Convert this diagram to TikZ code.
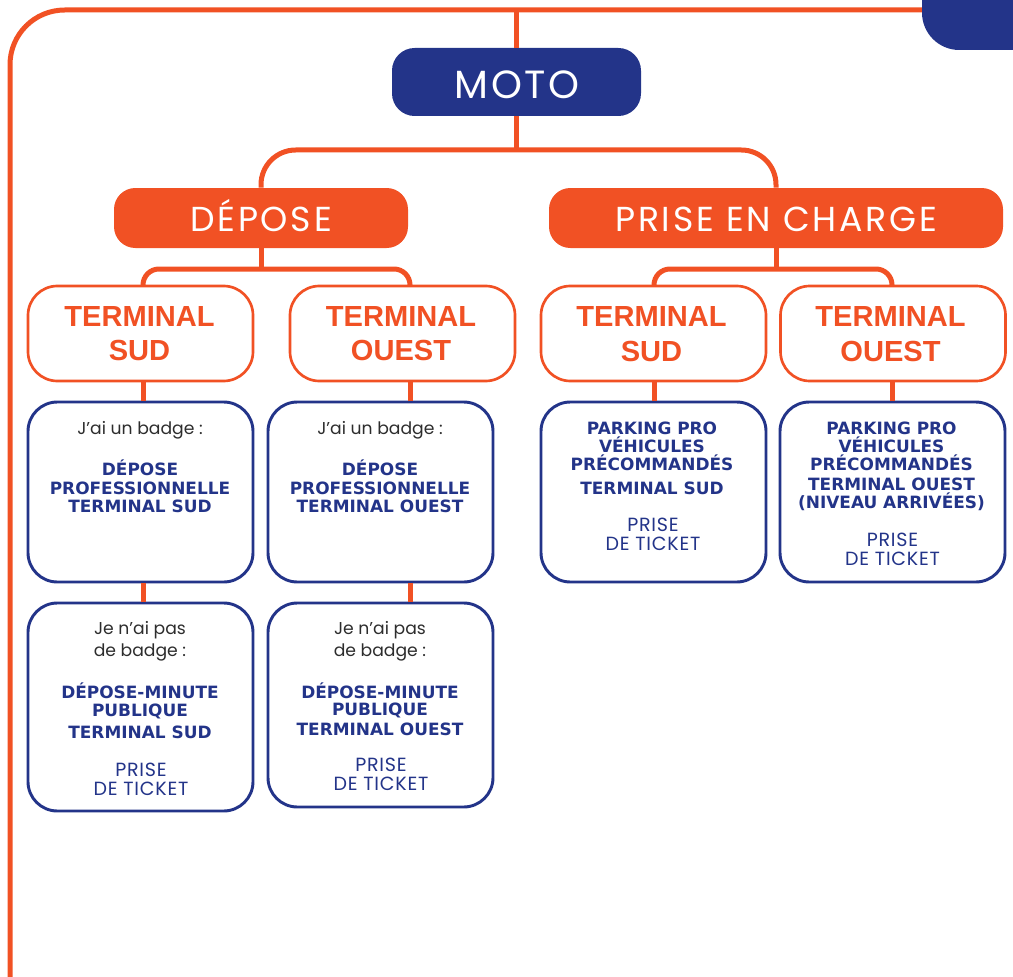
\documentclass[tikz,border=0pt]{standalone}
\usepackage{fontspec}
\setmainfont{Poppins}
\newfontfamily\libsans{Liberation Sans}
\newfontfamily\djsans{DejaVu Sans}
\newfontfamily\hdrfont{Poppins}[LetterSpace=8]
\newfontfamily\motofont{Poppins}[LetterSpace=6]
\newfontfamily\tickfont{Poppins}[LetterSpace=4]
\usetikzlibrary{calc}
\definecolor{orng}{RGB}{241,81,36}
\definecolor{navy}{RGB}{35,52,137}
\definecolor{txtgray}{RGB}{45,45,45}
\newcommand\tl[5]{\node[#4] (#1) at (#2,#3) {#5};}
\begin{document}
\begin{tikzpicture}[x=0.75pt,y=-0.75pt,
  conn/.style={draw=orng,line width=3.75pt},
  hbox/.style={rounded corners=16pt, minimum height=45pt, inner sep=0},
  tbox/.style={draw=orng, fill=white, line width=2pt, rounded corners=22pt, minimum width=168.75pt, minimum height=71.25pt, inner sep=0},
  bluebox/.style={draw=navy, fill=white, line width=2.2pt, rounded corners=22pt, minimum width=168.75pt, inner sep=0},
  lbl/.style={anchor=base, inner sep=0},
  htxt/.style={lbl, text=white},
  ttxt/.style={lbl, text=orng, font=\libsans\bfseries\fontsize{21.8}{21.8}\selectfont},
  gtxt/.style={lbl, text=txtgray, font=\fontsize{12.9}{12.9}\selectfont},
  btxt/.style={lbl, text=navy, font=\djsans\bfseries\fontsize{12.7}{12.7}\selectfont},
  ptxt/.style={lbl, text=navy, font=\tickfont\fontsize{14.3}{14.3}\selectfont},
]
\useasboundingbox (0,0) rectangle (1013,977);
% frame
\draw[conn, rounded corners=41pt] (10,990) -- (10,10) -- (930,10);
\fill[navy, rounded corners=28pt] (922,-60) rectangle (1080,50);

% header boxes
\node[hbox, fill=navy, minimum width=186.75pt, minimum height=51pt, rounded corners=17pt] (moto) at (516.5,82) {};
\node[hbox, fill=orng, minimum width=220.5pt] (depose) at (261,218) {};
\node[hbox, fill=orng, minimum width=340.5pt] (prise) at (776,218) {};

% terminal boxes
\node[tbox] (ts1) at (140.5,333.5) {};
\node[tbox] (to1) at (402.5,333.5) {};
\node[tbox] (ts2) at (653.5,333.5) {};
\node[tbox] (to2) at (893,333.5) {};

% blue boxes
\node[bluebox, minimum height=135pt] (b1) at (140.5,492) {};
\node[bluebox, minimum height=135pt] (b2) at (380.5,492) {};
\node[bluebox, minimum height=135pt] (b3) at (653.5,492) {};
\node[bluebox, minimum height=135pt] (b4) at (892.5,492) {};
\node[bluebox, minimum height=156pt] (b5) at (140.5,707) {};
\node[bluebox, minimum height=153pt] (b6) at (380.5,705) {};

% connector helpers
\coordinate (top) at (516.5,10);
\coordinate (j1) at (516.5,150);
\coordinate (j2) at (261,269);
\coordinate (j3) at (776,269);
\coordinate (c1) at (143,0);
\coordinate (c2) at (410,0);
\coordinate (c3) at (654,0);
\coordinate (c4) at (892,0);

\draw[conn] (top) -- (moto.north);
\draw[conn] (moto.south) -- (j1);
\draw[conn, rounded corners=26pt] (depose.north) |- (j1) -| (prise.north);
\draw[conn] (depose.south) -- (j2);
\draw[conn, rounded corners=12pt] (ts1.north -| c1) |- (j2) -| (to1.north -| c2);
\draw[conn] (prise.south) -- (j3);
\draw[conn, rounded corners=12pt] (ts2.north -| c3) |- (j3) -| (to2.north -| c4);
\draw[conn] (ts1.south -| c1) -- (b1.north -| c1);
\draw[conn] (to1.south -| c2) -- (b2.north -| c2);
\draw[conn] (ts2.south -| c3) -- (b3.north -| c3);
\draw[conn] (to2.south -| c4) -- (b4.north -| c4);
\draw[conn] (b1.south -| c1) -- (b5.north -| c1);
\draw[conn] (b2.south -| c2) -- (b6.north -| c2);

% header texts
\tl{motot}{517}{98.3}{htxt, font=\motofont\fontsize{29.5}{29.5}\selectfont}{MOTO}
\tl{deposet}{261}{231.7}{htxt, font=\hdrfont\fontsize{26}{26}\selectfont}{DÉPOSE}
\tl{priset}{776}{231.7}{htxt, font=\hdrfont\fontsize{26}{26}\selectfont}{PRISE EN CHARGE}

% terminal texts
\tl{ts1a}{139.5}{326.7}{ttxt}{TERMINAL}
\tl{ts1b}{139.5}{360.7}{ttxt}{SUD}
\tl{to1a}{401}{326.7}{ttxt}{TERMINAL}
\tl{to1b}{401}{360.7}{ttxt}{OUEST}
\tl{ts2a}{651.5}{326.7}{ttxt}{TERMINAL}
\tl{ts2b}{651.5}{361}{ttxt}{SUD}
\tl{to2a}{890.5}{326.7}{ttxt}{TERMINAL}
\tl{to2b}{890.5}{361}{ttxt}{OUEST}

% box 1
\tl{b1a}{140}{434}{gtxt}{J’ai un badge :}
\tl{b1b}{140}{475}{btxt}{DÉPOSE}
\tl{b1c}{140}{494}{btxt}{PROFESSIONNELLE}
\tl{b1d}{140}{512.3}{btxt}{TERMINAL SUD}
% box 2
\tl{b2a}{380}{434}{gtxt}{J’ai un badge :}
\tl{b2b}{380}{475}{btxt}{DÉPOSE}
\tl{b2c}{380}{494}{btxt}{PROFESSIONNELLE}
\tl{b2d}{380}{512.3}{btxt}{TERMINAL OUEST}
% box 3
\tl{b3a}{652}{434}{btxt}{PARKING PRO}
\tl{b3b}{652}{452.3}{btxt}{VÉHICULES}
\tl{b3c}{652}{470.7}{btxt}{PRÉCOMMANDÉS}
\tl{b3d}{652}{494}{btxt}{TERMINAL SUD}
\tl{b3e}{653}{531.7}{ptxt}{PRISE}
\tl{b3f}{653}{550}{ptxt}{DE TICKET}
% box 4
\tl{b4a}{891.5}{434}{btxt}{PARKING PRO}
\tl{b4b}{891.5}{452.3}{btxt}{VÉHICULES}
\tl{b4c}{891.5}{470.7}{btxt}{PRÉCOMMANDÉS}
\tl{b4d}{891.5}{490}{btxt}{TERMINAL OUEST}
\tl{b4e}{891.5}{508.5}{btxt}{(NIVEAU ARRIVÉES)}
\tl{b4f}{892.5}{546.7}{ptxt}{PRISE}
\tl{b4g}{892.5}{565.7}{ptxt}{DE TICKET}
% box 5
\tl{b5a}{140}{634}{gtxt}{Je n’ai pas}
\tl{b5b}{140}{656.7}{gtxt}{de badge :}
\tl{b5c}{140}{698.3}{btxt}{DÉPOSE-MINUTE}
\tl{b5d}{140}{716.7}{btxt}{PUBLIQUE}
\tl{b5e}{140}{738.3}{btxt}{TERMINAL SUD}
\tl{b5f}{141}{776}{ptxt}{PRISE}
\tl{b5g}{141}{795}{ptxt}{DE TICKET}
% box 6
\tl{b6a}{380}{634}{gtxt}{Je n’ai pas}
\tl{b6b}{380}{656.7}{gtxt}{de badge :}
\tl{b6c}{380}{698.3}{btxt}{DÉPOSE-MINUTE}
\tl{b6d}{380}{715.7}{btxt}{PUBLIQUE}
\tl{b6e}{380}{735}{btxt}{TERMINAL OUEST}
\tl{b6f}{381}{771.7}{ptxt}{PRISE}
\tl{b6g}{381}{790.7}{ptxt}{DE TICKET}
\end{tikzpicture}
\end{document}
